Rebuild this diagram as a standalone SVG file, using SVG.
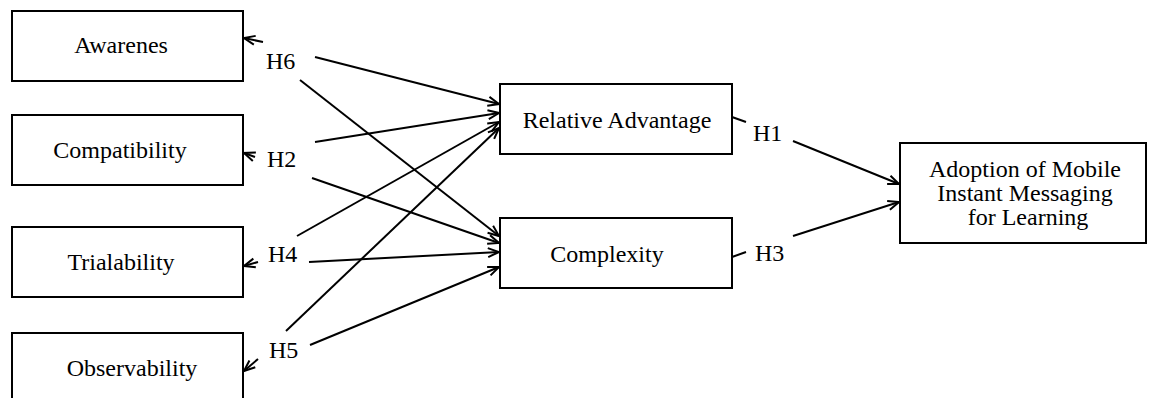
<svg xmlns="http://www.w3.org/2000/svg" width="1151" height="398" viewBox="0 0 1151 398">
<style>
.box{fill:#fff;stroke:#000;stroke-width:2}
.t{font-family:"Liberation Serif","Times New Roman",serif;font-size:24px;fill:#000}
.c{text-anchor:middle}
.ln{stroke:#000;stroke-width:2;fill:none}
.ar{marker-end:url(#arr)}
</style>
<defs>
<marker id="arr" markerUnits="userSpaceOnUse" markerWidth="14" markerHeight="12" viewBox="-1 -6 14 12" refX="11" refY="0" orient="auto">
<path d="M0,-4.5 L11,0 L0,4.5" fill="none" stroke="#000" stroke-width="2"/>
</marker>
</defs>
<rect width="1151" height="398" fill="#fff"/>
<g id="connectors">
<line class="ln ar" x1="263" y1="42" x2="244" y2="38"/>
<line class="ln ar" x1="255" y1="157" x2="244" y2="153"/>
<line class="ln ar" x1="258" y1="262" x2="244" y2="266"/>
<line class="ln ar" x1="258" y1="359" x2="244" y2="371"/>
<line class="ln ar" x1="315" y1="57" x2="499" y2="104"/>
<line class="ln ar" x1="300" y1="80" x2="499" y2="236"/>
<line class="ln ar" x1="315" y1="142" x2="499" y2="113"/>
<line class="ln ar" x1="312" y1="178" x2="499" y2="243"/>
<line class="ln ar" x1="297" y1="236" x2="499" y2="122"/>
<line class="ln ar" x1="309" y1="262" x2="499" y2="252"/>
<line class="ln ar" x1="286" y1="331" x2="499" y2="128"/>
<line class="ln ar" x1="310" y1="345" x2="499" y2="267"/>
<line class="ln" x1="732" y1="117" x2="746" y2="122"/>
<line class="ln ar" x1="793" y1="141" x2="899" y2="184"/>
<line class="ln" x1="732" y1="257" x2="746" y2="252"/>
<line class="ln ar" x1="793" y1="236" x2="899" y2="202"/>
</g>
<g id="awarenes"><rect class="box" x="12" y="11" width="231" height="70"/><text class="t c" x="121" y="53">Awarenes</text></g>
<g id="compatibility"><rect class="box" x="12" y="115" width="231" height="70"/><text class="t c" x="120" y="158">Compatibility</text></g>
<g id="trialability"><rect class="box" x="12" y="227" width="231" height="70"/><text class="t c" x="121" y="270">Trialability</text></g>
<g id="observability"><rect class="box" x="12" y="333" width="231" height="70"/><text class="t c" x="132" y="376">Observability</text></g>
<g id="relative-advantage"><rect class="box" x="500" y="84" width="232" height="70"/><text class="t c" x="617" y="128">Relative Advantage</text></g>
<g id="complexity"><rect class="box" x="500" y="218" width="232" height="70"/><text class="t c" x="607" y="262">Complexity</text></g>
<g id="adoption"><rect class="box" x="900" y="143" width="246" height="100"/>
<text class="t c" x="1025" y="177">Adoption of Mobile</text>
<text class="t c" x="1025" y="201">Instant Messaging</text>
<text class="t c" x="1028" y="225">for Learning</text></g>
<g id="labels">
<text class="t" x="266" y="69">H6</text>
<text class="t" x="267" y="167">H2</text>
<text class="t" x="268" y="262">H4</text>
<text class="t" x="269" y="358">H5</text>
<text class="t" x="753" y="141">H1</text>
<text class="t" x="755" y="261">H3</text>
</g>
</svg>
